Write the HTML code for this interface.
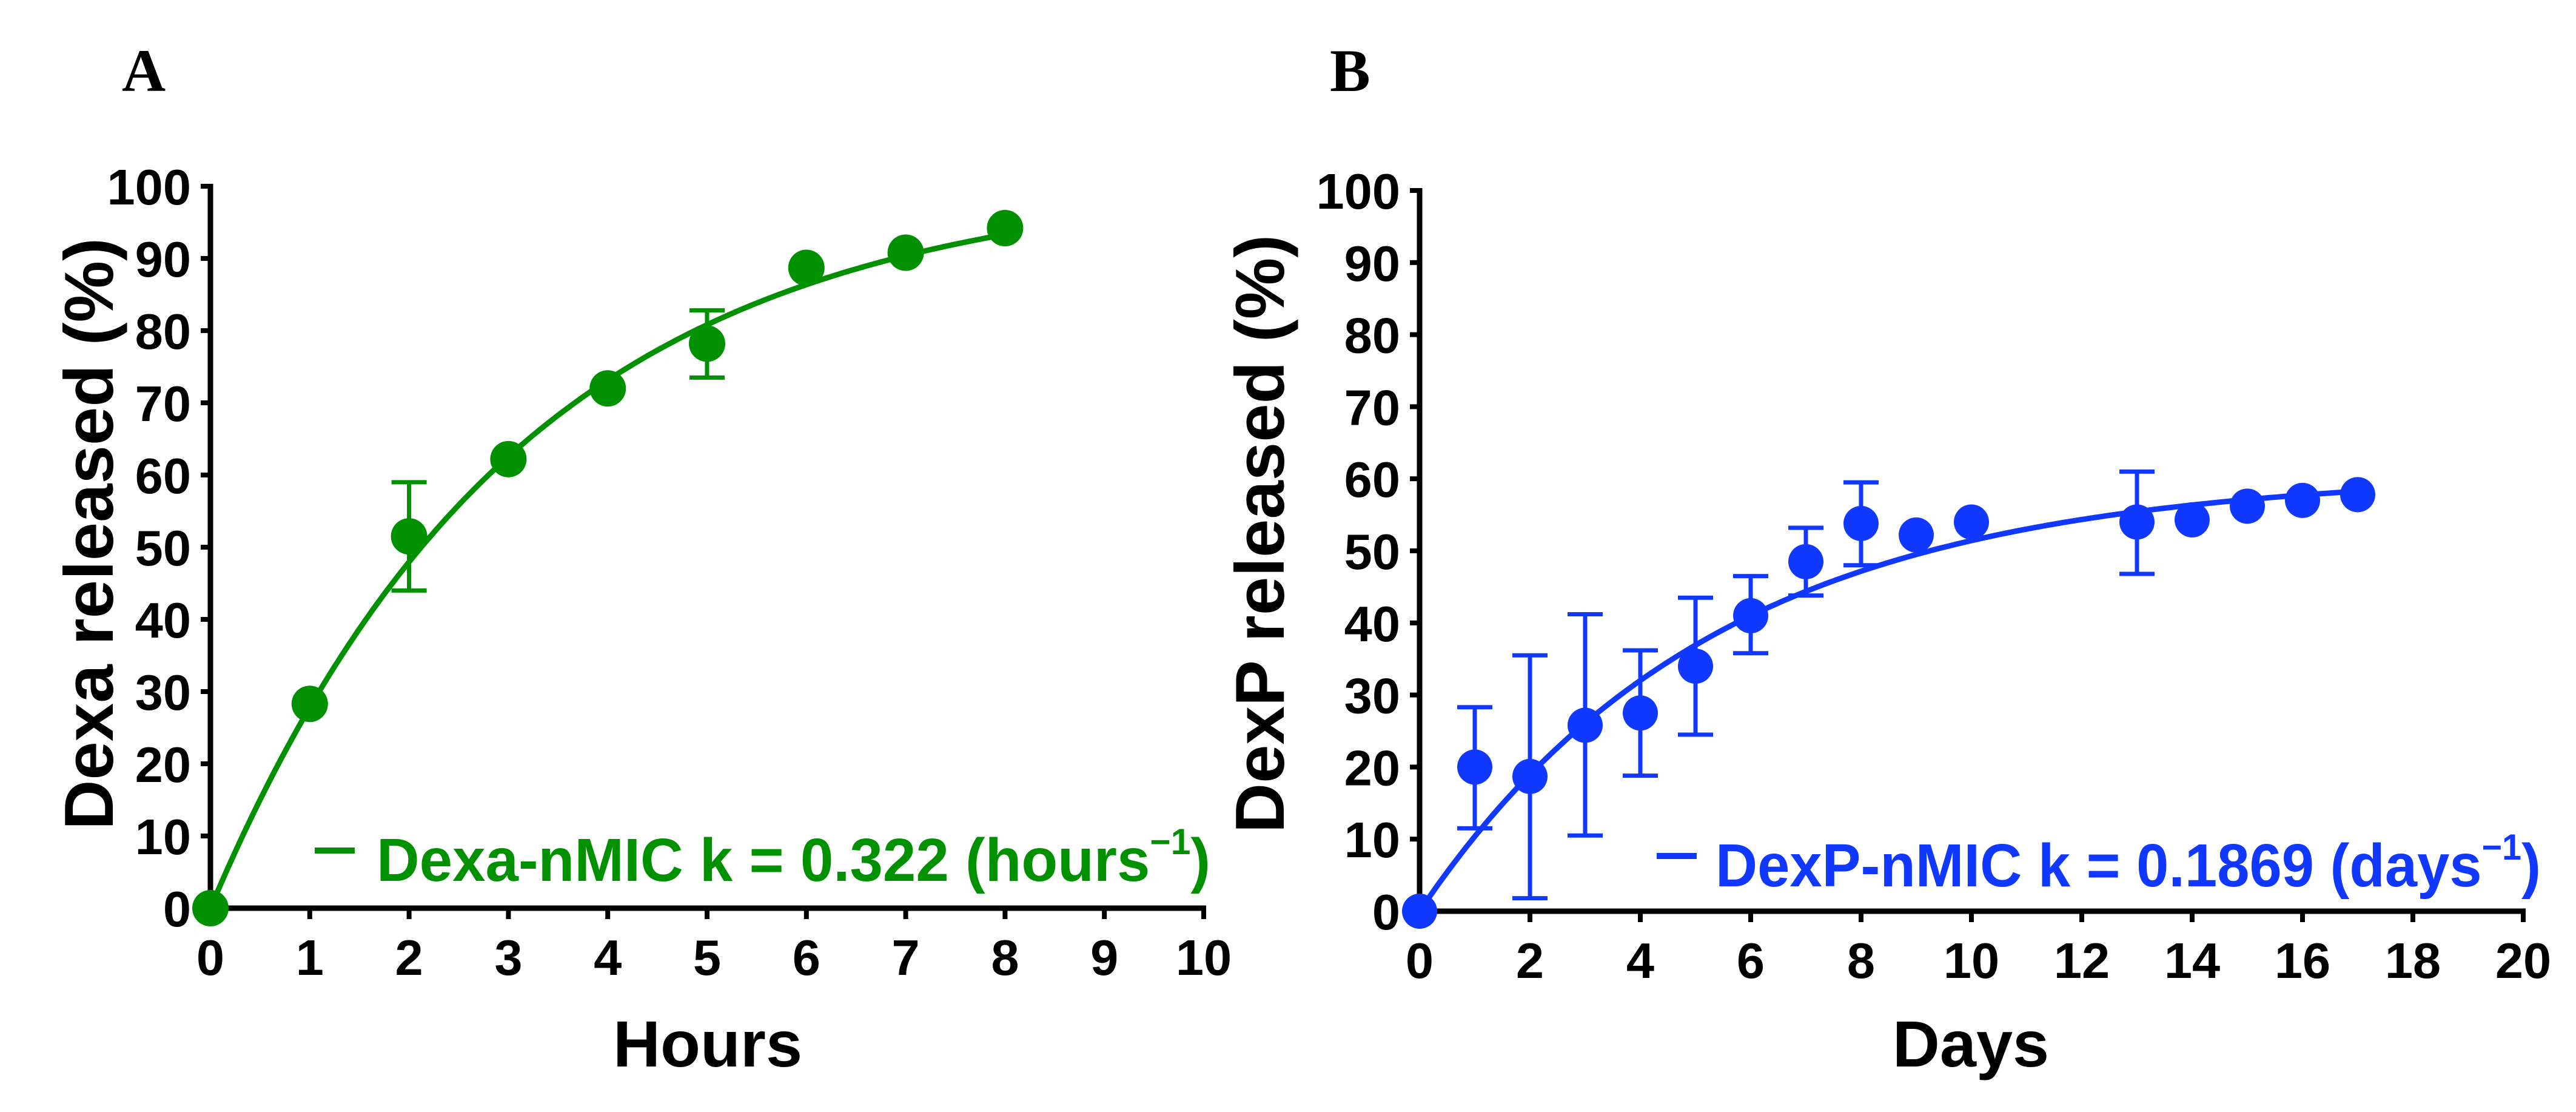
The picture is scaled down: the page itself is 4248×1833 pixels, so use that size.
<!DOCTYPE html>
<html><head><meta charset="utf-8"><style>
html,body{margin:0;padding:0;background:#fff;}
svg{display:block;font-family:"Liberation Sans",Arial,sans-serif;font-weight:bold;}
</style></head><body>
<svg id="fig" width="4248" height="1833" viewBox="0 0 4248 1833" xmlns="http://www.w3.org/2000/svg">
<rect width="4248" height="1833" fill="#fff"/>
<text x="201" y="150" font-family="Liberation Serif, serif" font-size="100" font-weight="bold">A</text>
<text x="2193" y="150" font-family="Liberation Serif, serif" font-size="100" font-weight="bold">B</text>
<g id="panelA"></g>
<g id="panelB"></g>
</svg>
<script>
// Panel A data
const aX = [0,1,2,3,4,5,6,7,8];
const aY = [0,28.3,51.5,62.2,72,78.2,88.7,90.8,94.2];
const aErrLo = [0,0,44,0,0,73.5,0,0,0];
const aErrHi = [0,0,59,0,0,82.8,0,0,0];
const aXTicks = [0,1,2,3,4,5,6,7,8,9,10];
const aYTicks = [0,10,20,30,40,50,60,70,80,90,100];
const aFit = {plateau:101, k:0.322, xEnd:8};
// Panel B data
const bX = [0,1,2,3,4,5,6,7,8,9,10,13,14,15,16,17];
const bY = [0,20,18.7,25.8,27.5,34,41,48.5,53.8,52.2,54,54,54.3,56.2,57,57.8];
const bErrLo = [0,11.5,1.8,10.5,18.8,24.5,35.8,43.8,48,0,0,46.8,0,0,0,0];
const bErrHi = [0,28.3,35.5,41.2,36.2,43.5,46.5,53.2,59.5,0,0,61,0,0,0,0];
const bXTicks = [0,2,4,6,8,10,12,14,16,18,20];
const bYTicks = [0,10,20,30,40,50,60,70,80,90,100];
const bFit = {plateau:60.8, k:0.1869, xEnd:17};

const NS="http://www.w3.org/2000/svg";
function mk(parent,tag,attrs){const e=document.createElementNS(NS,tag);for(const k in attrs)e.setAttribute(k,attrs[k]);parent.appendChild(e);return e;}

function drawPanel(g,cfg){
  const sx=v=>cfg.x0+(v-cfg.xmin)/(cfg.xmax-cfg.xmin)*(cfg.x1-cfg.x0);
  const sy=v=>cfg.y0-(v/100)*(cfg.y0-cfg.y1);
  const ya=mk(g,'line',{x1:cfg.x0,y1:cfg.y1-4,x2:cfg.x0,y2:cfg.y0+4,stroke:'#000','stroke-width':9});
  
  
  const xa=mk(g,'line',{x1:cfg.x0-4,y1:cfg.y0,x2:cfg.x1+4,y2:cfg.y0,stroke:'#000','stroke-width':9});
  
  
  cfg.yTicks.forEach(t=>{
    const y=sy(t);
    const tk=mk(g,'line',{x1:cfg.x0-16,y1:y,x2:cfg.x0,y2:y,stroke:'#000','stroke-width':8});
    
    
    const tl=mk(g,'text',{x:cfg.x0-32,y:y+30,'font-size':83,'text-anchor':'end'});
    tl.textContent=t;
    
    
  });
  cfg.xTicks.forEach(t=>{
    const x=sx(t);
    const tk=mk(g,'line',{x1:x,y1:cfg.y0,x2:x,y2:cfg.y0+18,stroke:'#000','stroke-width':8});
    
    
    const tl=mk(g,'text',{x:x,y:cfg.y0+110,'font-size':83,'text-anchor':'middle'});
    tl.textContent=t;
    
    
  });
  const xt=mk(g,'text',{x:cfg.xTitleX,y:1758,'font-size':108,'text-anchor':'middle'});
  xt.textContent=cfg.xTitle;
  
  
  const yt=mk(g,'text',{x:0,y:0,'font-size':114,'text-anchor':'middle',transform:`translate(${cfg.yTitleX},${880}) rotate(-90)`});
  yt.textContent=cfg.yTitle;
  
  
  let d='';
  for(let i=0;i<=200;i++){const xv=cfg.fit.xEnd*i/200;const yv=cfg.fit.plateau*(1-Math.exp(-cfg.fit.k*xv));d+=(i?'L':'M')+sx(xv).toFixed(1)+','+sy(yv).toFixed(1);}
  const c=mk(g,'path',{d:d,fill:'none',stroke:cfg.color,'stroke-width':9});
  
  
  cfg.xs.forEach((xv,i)=>{
    if(cfg.hi[i]>0){
      const x=sx(xv),yl=sy(cfg.lo[i]),yh=sy(cfg.hi[i]);
      const eb=mk(g,'path',{d:`M${x},${yl}L${x},${yh}M${x-29},${yl}L${x+29},${yl}M${x-29},${yh}L${x+29},${yh}`,stroke:cfg.color,'stroke-width':7,fill:'none'});
      
      
    }
  });
  cfg.xs.forEach((xv,i)=>{
    const p=mk(g,'circle',{cx:sx(xv),cy:sy(cfg.ys[i]),r:cfg.r,fill:cfg.color});
    
    
  });
  const ld=mk(g,'line',{x1:cfg.leg.x,y1:cfg.leg.y-50,x2:cfg.leg.x+66,y2:cfg.leg.y-50,stroke:cfg.color,'stroke-width':10});
  
  
  const lt=mk(g,'text',{x:cfg.leg.tx,y:cfg.leg.y,'font-size':100,fill:cfg.color,textLength:cfg.leg.w,lengthAdjust:'spacingAndGlyphs'});
  
  
  lt.setAttribute('xml:space','preserve');
  const s1=mk(lt,'tspan',{});s1.textContent=cfg.leg.text;
  const s2=mk(lt,'tspan',{'font-size':60,dy:-44});s2.textContent='\u22121';
  const s3=mk(lt,'tspan',{dy:44});s3.textContent=')';
}

drawPanel(document.getElementById('panelA'),{x0:347,x1:1985,xmin:0,xmax:10,y0:1497,y1:307,xs:aX,ys:aY,lo:aErrLo,hi:aErrHi,
  xTicks:aXTicks,yTicks:aYTicks,fit:aFit,color:'#009000',r:30,xTitle:'Hours',xTitleX:1167,yTitle:'Dexa released (%)',yTitleX:186,
  leg:{x:519,y:1452,tx:621,w:1375,text:'Dexa-nMIC  k = 0.322 (hours'}});
drawPanel(document.getElementById('panelB'),{x0:2341,x1:4161,xmin:0,xmax:20,y0:1502,y1:314,xs:bX,ys:bY,lo:bErrLo,hi:bErrHi,
  xTicks:bXTicks,yTicks:bYTicks,fit:bFit,color:'#1038ff',r:29,xTitle:'Days',xTitleX:3250,yTitle:'DexP released (%)',yTitleX:2117,
  leg:{x:2732,y:1461,tx:2829,w:1361,text:'DexP-nMIC k = 0.1869 (days'}});
</script>
</body></html>
